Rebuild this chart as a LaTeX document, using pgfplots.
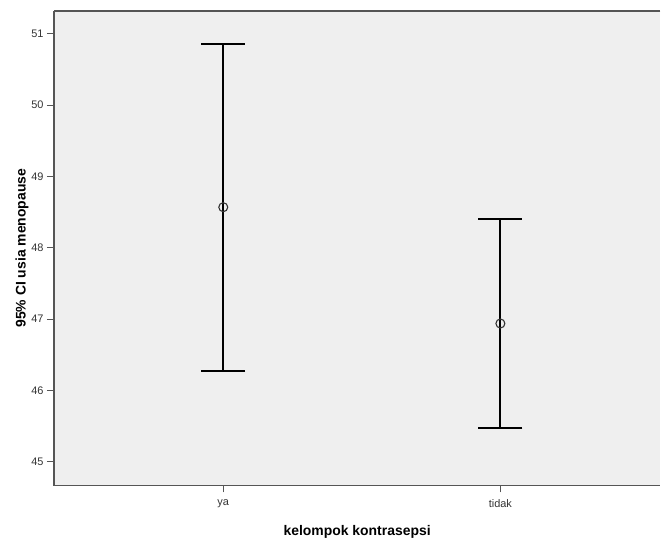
\documentclass[border=0pt]{standalone}
\usepackage{pgfplots}
\pgfplotsset{compat=1.18}
\usepackage{fontspec}
\setmainfont{Liberation Sans}
\usetikzlibrary{calc}
\definecolor{bgfill}{HTML}{EFEFEF}
\definecolor{axgray}{HTML}{555555}
\begin{document}
\begin{tikzpicture}
\begin{axis}[
  name=ax,
  at={(0,0)}, anchor=south west,
  scale only axis,
  width=607bp, height=475bp,
  xmin=0.389, xmax=2.577,
  ymin=44.67, ymax=51.32,
  axis background/.style={fill=bgfill},
  axis line style={draw=none},
  xtick={1,2}, xticklabels={ya,tidak},
  ytick={45,46,47,48,49,50,51},
  tick align=outside,
  tick pos=left,
  major tick length=7bp,
  tick style={axgray, line width=0.9bp},
  /pgf/number format/assume math mode=true,
  ticklabel style={font=\fontsize{11}{13}\selectfont, text=black!80},
  xticklabel style={yshift=-4bp},
  xlabel={\textbf{kelompok kontrasepsi}},
  ylabel={\textbf{95\% CI usia menopause}},
  label style={font=\fontsize{14}{16}\selectfont},
  xlabel style={yshift=-10bp},
  ylabel style={yshift=-4bp},
  clip=false,
]
\addplot[
  only marks,
  mark=o,
  mark size=4.5bp,
  mark options={draw=black!80, line width=1.1bp},
  error bars/.cd,
    y dir=both, y explicit,
    error bar style={black, line width=1.9bp},
    error mark options={rotate=90, mark size=22bp, line width=1.9bp, black},
] coordinates {
  (1, 48.57) +- (0, 2.29)
  (2, 46.94) +- (0, 1.47)
};
\draw[axgray, line width=1.4bp] (rel axis cs:1,1) -- (rel axis cs:0,1);
\draw[axgray, line width=1.4bp] (rel axis cs:0,1) -- (rel axis cs:0,0) -- (rel axis cs:1,0);
\end{axis}
\path[use as bounding box] ($(ax.south west)+(-54bp,-53bp)$) rectangle ($(ax.south west)+(607bp,486bp)$);
\end{tikzpicture}
\end{document}
